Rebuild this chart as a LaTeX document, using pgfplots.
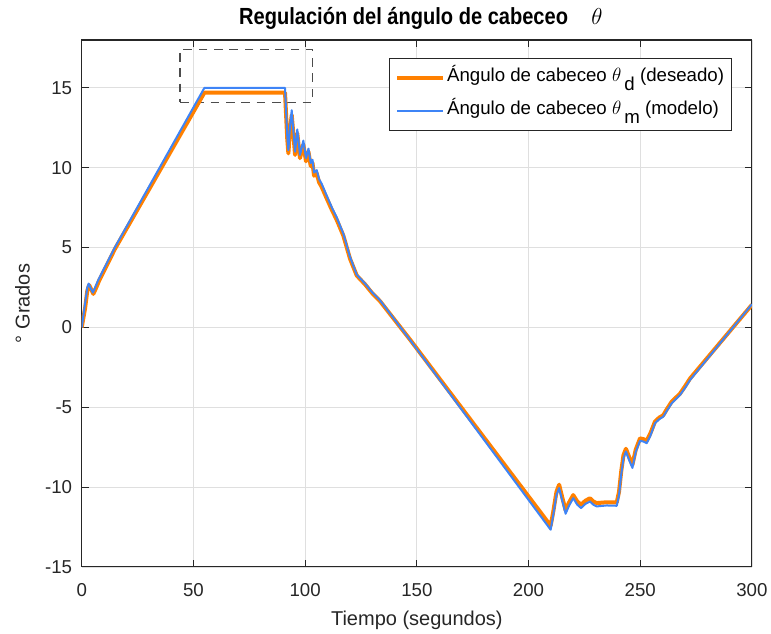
\documentclass[border=0pt]{standalone}
\usepackage{fontspec}
\setmainfont{Liberation Sans}
\newfontfamily\titlefont[FakeStretch=0.86]{Liberation Sans}
\usepackage{pgfplots}
\pgfplotsset{compat=1.18}
\definecolor{mlorange}{RGB}{255,128,0}
\definecolor{mlblue}{RGB}{62,132,246}
\definecolor{axgray}{RGB}{38,38,38}
\definecolor{gridgray}{RGB}{223,223,223}
\begin{document}
\begin{tikzpicture}
\path[use as bounding box] (-61.3pt,-50.25pt) rectangle (517pt,425.25pt);
\begin{axis}[
  scale only axis, width=502.7pt, height=395.25pt,
  xmin=0, xmax=300, ymin=-15, ymax=18,
  xtick={0,50,...,300}, ytick={-15,-10,...,15},
  xtick pos=both, ytick pos=both, xticklabel pos=lower, yticklabel pos=left,
  tick align=inside, major tick length=5.5pt,
  grid=major, major grid style={gridgray, line width=0.6pt},
  axis line style={axgray, line width=0.8pt},
  every tick/.style={axgray, line width=0.8pt},
  /pgf/number format/assume math mode=true,
  ticklabel style={font=\fontsize{14}{16}\selectfont, text=axgray},
  xticklabel style={anchor=base, yshift=-22.5pt, inner sep=0pt},
  yticklabel style={anchor=east, xshift=-7pt, inner sep=0pt},
  title={\titlefont\bfseries Regulación del ángulo de cabeceo\quad\mdseries$\theta$},
  title style={at={(0.5,1.0140)}, anchor=base, xshift=3pt, font=\fontsize{17.5}{19}\selectfont, inner sep=0pt},
  xlabel={Tiempo (segundos)},
  xlabel style={at={(0.5,-0.1113)}, anchor=base, font=\fontsize{15}{17}\selectfont, text=axgray, inner sep=0pt},
  ylabel={° Grados},
  ylabel style={at={(-0.0776,0.5)}, rotate=0, anchor=base, font=\fontsize{15}{17}\selectfont, text=axgray, inner sep=0pt},
  legend style={at={(0.970,0.966)}, anchor=north east, draw=axgray, line width=0.6pt, fill=white,
    font=\fontsize{14}{16}\selectfont, inner xsep=4pt, inner ysep=6pt, row sep=8pt,
    nodes={inner sep=1.5pt, text height=10pt, text depth=4pt}},
  legend cell align=left,
  legend image code/.code={\draw[#1] (0pt,0pt) -- (34.5pt,0pt);},
]
\addplot[forget plot, color=black!70, line width=0.8pt, dash pattern=on 6.5pt off 5pt]
  coordinates {(44,14.1) (103.5,14.1) (103.5,17.4) (44,17.4) (44,14.1)};
\addplot[mlorange, line width=3pt, line join=round] coordinates {
(0,0) (1.5,1.2) (2.5,2.3) (3.3,2.65) (4.2,2.4) (5.2,2.1) (6.2,2.4) (7.7,2.9) (14.8,4.9)
(54.9,14.7) (91.0,14.7) (92.0,11.8) (92.5,10.9) (93.2,12.3) (94.0,13.3) (94.8,12.0) (95.5,10.8)
(96.5,12.15) (97.7,10.6) (99.2,11.45) (100.4,10.4) (101.5,11.0) (102.5,10.1) (103.3,10.3)
(104.0,9.5) (105.2,9.65) (106.2,9.1) (107.4,8.8) (109.6,8.1) (112,7.35) (114.1,6.75)
(117.1,5.75) (120.1,4.3) (123.1,3.25) (126.8,2.7) (130,2.15) (133.5,1.65) (147,-0.77)
(209.9,-12.42) (211,-11.6) (212.5,-10.3) (213.7,-9.85) (215,-10.6) (216.6,-11.45) (218,-11.0)
(220,-10.5) (221.8,-10.9) (223.5,-11.1) (225.5,-10.85) (227.5,-10.7) (229,-10.9) (230.5,-11.0)
(235,-10.95) (239.5,-10.95) (240.5,-10.3) (241.5,-9.0) (242.5,-8.0) (243.6,-7.6) (245,-8.1)
(246.5,-8.6) (248,-7.65) (249.9,-6.95) (251.5,-7.0) (252.9,-7.1) (254.5,-6.65) (256.6,-5.9)
(258.5,-5.65) (260.3,-5.5) (262,-5.1) (264.1,-4.65) (267.8,-4.15) (270,-3.7) (272.3,-3.2) (300,1.42)
};
\addlegendentry{Ángulo de cabeceo $\theta$\,\raisebox{-0.9ex}{d} (deseado)}
\addplot[mlblue, line width=1.5pt, line join=round] coordinates {
(0,0) (1.5,1.5) (2.5,2.5) (3.1,2.75) (4.0,2.45) (5.0,2.18) (6.0,2.5) (7.5,3.0) (14.8,5.0)
(54.9,15.0) (91.0,15.0) (92.0,12.0) (92.5,11.1) (93.2,12.5) (94.0,13.6) (94.8,12.2) (95.5,11.0)
(96.5,12.4) (97.7,10.8) (99.2,11.7) (100.4,10.6) (101.5,11.2) (102.5,10.3) (103.3,10.5)
(104.0,9.7) (105.2,9.85) (106.2,9.3) (107.4,9.0) (109.6,8.27) (112,7.5) (114.1,6.9)
(117.1,5.87) (120.1,4.41) (123.1,3.3) (126.8,2.75) (130,2.2) (133.5,1.7) (147,-0.79)
(209.9,-12.67) (211,-11.8) (212.5,-10.5) (213.7,-10.06) (215,-10.8) (216.6,-11.67) (218,-11.2)
(220,-10.69) (221.8,-11.1) (223.5,-11.31) (225.5,-11.05) (227.5,-10.9) (229,-11.1) (230.5,-11.21)
(235,-11.15) (239.5,-11.17) (240.5,-10.5) (241.5,-9.2) (242.5,-8.2) (243.6,-7.77) (245,-8.3)
(246.5,-8.8) (248,-7.8) (249.9,-7.1) (251.5,-7.15) (252.9,-7.25) (254.5,-6.8) (256.6,-6.0)
(258.5,-5.75) (260.3,-5.59) (262,-5.2) (264.1,-4.75) (267.8,-4.23) (270,-3.8) (272.3,-3.29) (300,1.45)
};
\addlegendentry{Ángulo de cabeceo $\theta$\,\raisebox{-0.9ex}{m} (modelo)}
\end{axis}
\end{tikzpicture}
\end{document}
